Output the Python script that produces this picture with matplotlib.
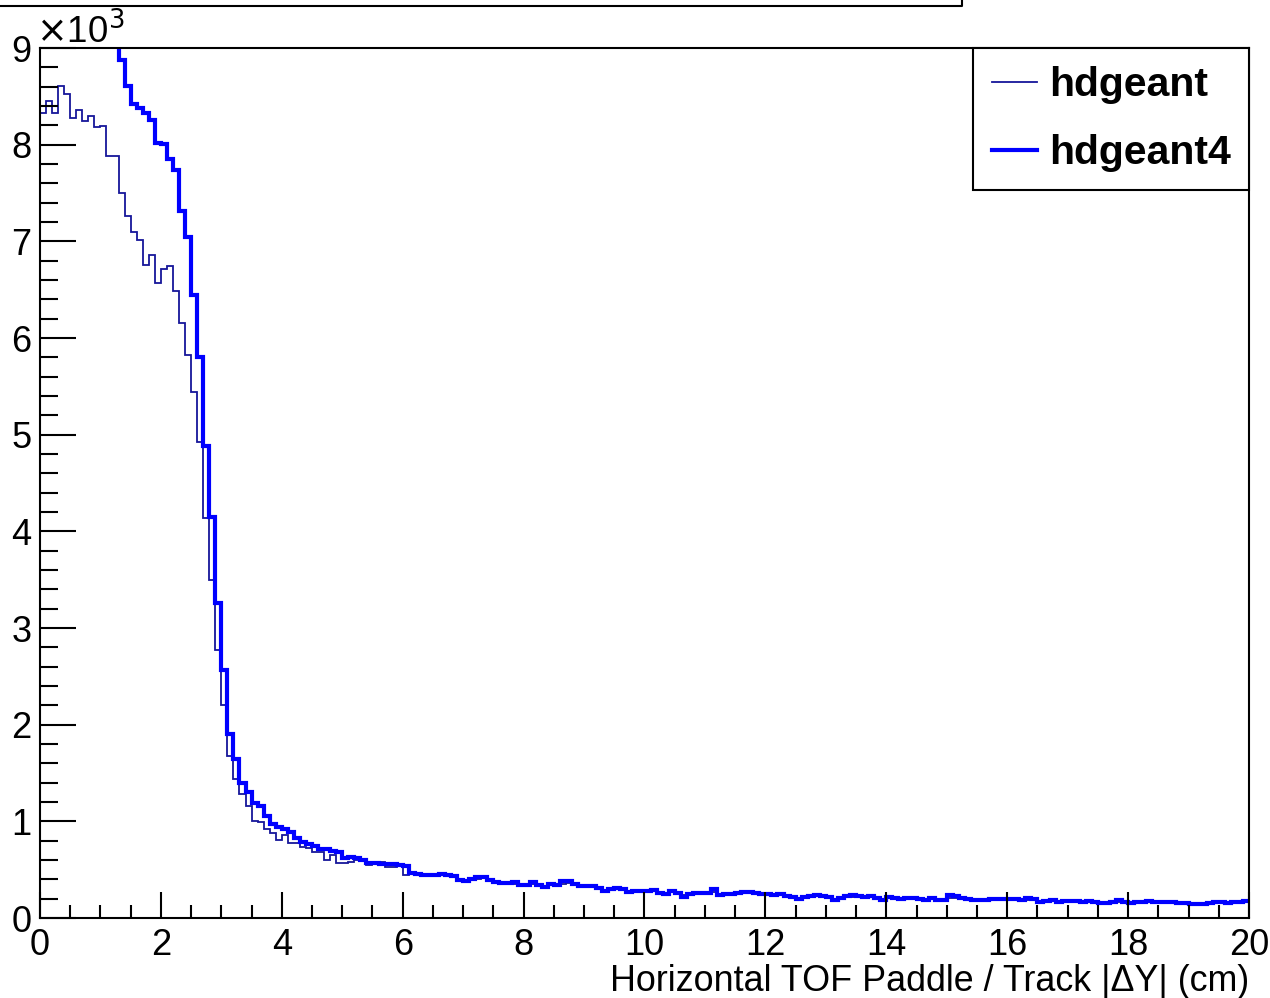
import numpy as np
import matplotlib
matplotlib.use("Agg")
import matplotlib.pyplot as plt
from matplotlib.ticker import MultipleLocator, FuncFormatter
from matplotlib.lines import Line2D

plt.rcParams['font.family'] = ['Liberation Sans', 'DejaVu Sans']

# ---- data (counts per 0.1 cm bin, 0..20 cm) ----
x_min, x_max, n_bins = 0.0, 20.0, 200
edges = np.linspace(x_min, x_max, n_bins + 1)

hdgeant = [
    8330, 8450, 8330, 8610, 8520, 8280, 8360, 8240, 8300, 8180,
    8190, 7880, 7880, 7500, 7260, 7100, 7010, 6760, 6860, 6570,
    6710, 6750, 6490, 6160, 5820, 5440, 4920, 4140, 3500, 2770,
    2200, 1680, 1440, 1280, 1160, 1000, 990, 920, 880, 810,
    860, 780, 780, 730, 720, 680, 680, 600, 650, 570,
    570, 580, 600, 610, 550, 570, 580, 530, 530, 540,
    450, 470, 450, 440, 430, 440, 440, 430, 420, 400,
    390, 390, 400, 410, 380, 360, 360, 350, 350, 340,
    340, 350, 330, 330, 340, 330, 350, 360, 340, 320,
    330, 320, 300, 290, 300, 300, 290, 280, 280, 270,
    280, 280, 260, 260, 270, 250, 240, 250, 250, 260,
    250, 270, 250, 250, 240, 250, 260, 260, 250, 250,
    240, 240, 240, 230, 220, 210, 220, 220, 230, 220,
    220, 200, 210, 220, 220, 220, 210, 220, 210, 200,
    210, 200, 200, 200, 210, 200, 190, 200, 190, 190,
    210, 210, 200, 200, 190, 190, 190, 190, 200, 190,
    190, 190, 190, 190, 190, 180, 180, 180, 170, 180,
    170, 180, 170, 170, 170, 160, 160, 170, 170, 170,
    160, 160, 170, 170, 160, 170, 160, 160, 160, 160,
    150, 150, 150, 150, 160, 160, 160, 160, 160, 170,
]

hdgeant4 = [
    9900, 9950, 10000, 10080, 10050, 9980, 9900, 9800, 9680, 9550,
    9400, 9250, 9080, 8880, 8610, 8420, 8380, 8330, 8260, 8020,
    8010, 7850, 7740, 7310, 7050, 6440, 5800, 4880, 4150, 3260,
    2570, 1900, 1640, 1400, 1300, 1190, 1160, 1060, 970, 940,
    920, 890, 830, 790, 770, 750, 710, 710, 690, 680,
    620, 630, 620, 600, 570, 570, 560, 560, 560, 550,
    540, 470, 460, 450, 440, 450, 460, 450, 430, 390,
    380, 400, 420, 420, 390, 370, 360, 360, 370, 340,
    340, 370, 340, 320, 350, 340, 380, 380, 350, 330,
    330, 330, 310, 280, 300, 310, 300, 270, 280, 280,
    280, 290, 260, 250, 280, 260, 220, 250, 260, 260,
    260, 300, 240, 250, 250, 260, 270, 270, 260, 250,
    250, 240, 250, 230, 220, 200, 220, 230, 240, 230,
    220, 190, 210, 230, 240, 230, 220, 230, 210, 190,
    220, 210, 200, 210, 210, 200, 190, 210, 190, 190,
    240, 230, 210, 200, 190, 190, 190, 200, 200, 200,
    200, 200, 190, 210, 200, 170, 180, 190, 170, 180,
    180, 180, 170, 180, 170, 160, 160, 170, 190, 170,
    160, 170, 170, 180, 170, 170, 170, 170, 160, 160,
    150, 150, 140, 160, 170, 170, 160, 170, 170, 180,
]

labels = ["hdgeant", "hdgeant4"]
colors = ["#16169a", "#0000ff"]
y_max = 9000
xlabel = "Horizontal TOF Paddle / Track |\u0394Y| (cm)"

# ---- figure ----
W, H = 1270, 998
fig = plt.figure(figsize=(W / 100, H / 100), dpi=100)
ax = fig.add_axes([40 / W, 1 - 918 / H, (1249 - 40) / W, (918 - 48) / H])

ax.stairs(hdgeant, edges, baseline=None, color=colors[0], linewidth=1.3, label=labels[0])
ax.stairs(hdgeant4, edges, baseline=None, color=colors[1], linewidth=3.0, label=labels[1])

ax.set_xlim(x_min, x_max)
ax.set_ylim(0, y_max)

for s in ax.spines.values():
    s.set_linewidth(1.5)
    s.set_color("black")

ax.xaxis.set_major_locator(MultipleLocator(2))
ax.xaxis.set_minor_locator(MultipleLocator(0.5))
ax.yaxis.set_major_locator(MultipleLocator(1000))
ax.yaxis.set_minor_locator(MultipleLocator(200))
ax.yaxis.set_major_formatter(FuncFormatter(lambda v, p: f"{v/1000:g}"))

ax.tick_params(axis="x", which="major", direction="in", length=19, width=1.5, labelsize=26, pad=7)
ax.tick_params(axis="x", which="minor", direction="in", length=9.5, width=1.5)
ax.tick_params(axis="y", which="major", direction="in", length=26, width=1.5, labelsize=26, pad=6)
ax.tick_params(axis="y", which="minor", direction="in", length=13, width=1.5)

ax.set_xlabel(xlabel, fontsize=25.8, loc="right", labelpad=1)

fig.text(36 / W, 1 - 44 / H, r"$\times$10$^{3}$", fontsize=26.5, ha="left", va="baseline")

leg = ax.legend(loc="upper right", bbox_to_anchor=(1.0, 1.0), frameon=True, fancybox=False,
                edgecolor="black", framealpha=1, borderaxespad=0,
                prop={"weight": "bold", "size": 29.5}, handlelength=1.1, handletextpad=0.29,
                borderpad=0.45, labelspacing=0.72)
leg.get_frame().set_linewidth(1.5)

# partial title box at the top of the canvas
fig.add_artist(Line2D([0, 962 / W, 962 / W], [1 - 6 / H, 1 - 6 / H, 1.0],
                      transform=fig.transFigure, color="black", linewidth=1.5))

fig.savefig("out.png", dpi=100)
